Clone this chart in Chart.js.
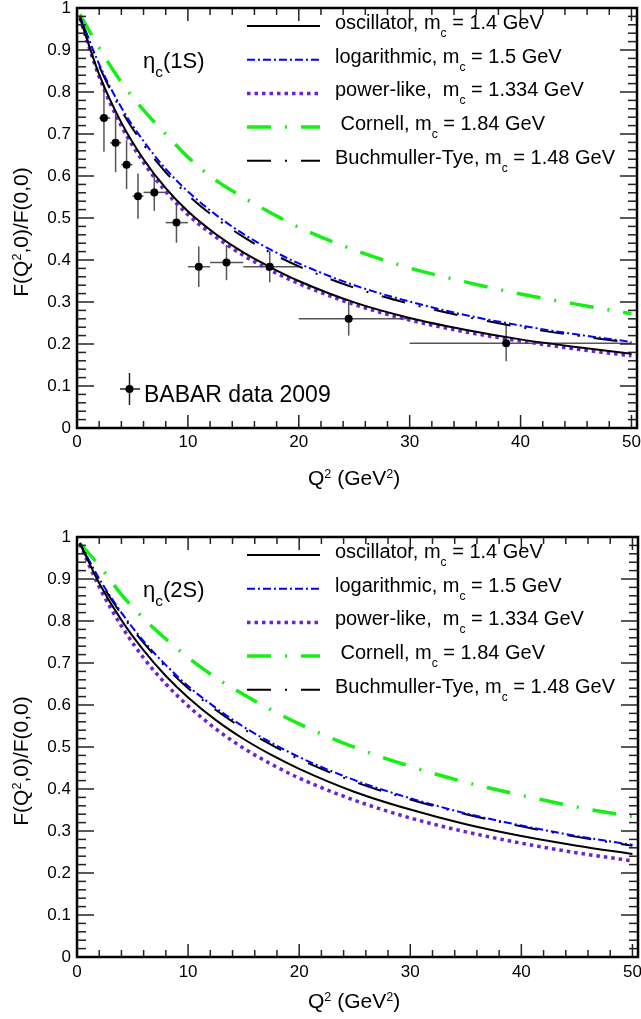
<!DOCTYPE html>
<html>
<head>
<meta charset="utf-8">
<script src="https://cdn.jsdelivr.net/npm/chart.js@4.4.1/dist/chart.umd.min.js"></script>
<style>
  body { margin: 0; background: #fff; }
  canvas { display: block; }
</style>
</head>
<body>
<canvas id="top" width="641" height="509"></canvas>
<canvas id="bottom" width="641" height="510"></canvas>
<script>
// ---------- values ----------
const q2 = [0.25, 2, 4, 6, 8, 10, 12.5, 15, 17.5, 20, 25, 30, 35, 40, 45, 50];

// eta_c(1S)
const osc1S   = [0.977, 0.842, 0.727, 0.640, 0.571, 0.516, 0.462, 0.418, 0.382, 0.350, 0.299, 0.262, 0.234, 0.211, 0.193, 0.177];
const log1S   = [0.981, 0.866, 0.763, 0.683, 0.617, 0.563, 0.508, 0.462, 0.424, 0.392, 0.340, 0.301, 0.269, 0.244, 0.223, 0.205];
const pow1S   = [0.976, 0.836, 0.719, 0.632, 0.563, 0.508, 0.455, 0.411, 0.375, 0.344, 0.294, 0.257, 0.229, 0.207, 0.188, 0.172];
const corn1S  = [0.985, 0.905, 0.823, 0.757, 0.700, 0.645, 0.590, 0.549, 0.512, 0.478, 0.424, 0.381, 0.348, 0.319, 0.295, 0.272];
const bt1S    = [0.981, 0.862, 0.756, 0.675, 0.609, 0.555, 0.500, 0.455, 0.417, 0.385, 0.334, 0.296, 0.265, 0.240, 0.220, 0.203];

// eta_c(2S)
const osc2S   = [0.985, 0.890, 0.802, 0.730, 0.669, 0.618, 0.564, 0.519, 0.481, 0.448, 0.393, 0.351, 0.316, 0.288, 0.265, 0.245];
const log2S   = [0.986, 0.901, 0.820, 0.752, 0.695, 0.645, 0.593, 0.548, 0.510, 0.476, 0.421, 0.378, 0.342, 0.313, 0.288, 0.267];
const pow2S   = [0.983, 0.881, 0.788, 0.712, 0.650, 0.598, 0.543, 0.497, 0.459, 0.426, 0.373, 0.331, 0.298, 0.271, 0.248, 0.229];
const corn2S  = [0.985, 0.932, 0.863, 0.806, 0.757, 0.713, 0.665, 0.625, 0.588, 0.555, 0.499, 0.454, 0.416, 0.385, 0.357, 0.334];
const bt2S    = [0.985, 0.898, 0.816, 0.748, 0.690, 0.640, 0.588, 0.543, 0.505, 0.471, 0.417, 0.375, 0.340, 0.311, 0.286, 0.265];

// BABAR data 2009
const babarQ2  = [2.43, 3.48, 4.47, 5.5, 6.97, 8.97, 10.98, 13.48, 17.38, 24.5, 38.7];
const babarF   = [0.738, 0.679, 0.627, 0.552, 0.561, 0.489, 0.384, 0.394, 0.384, 0.26, 0.202];
const babarErr = [0.08, 0.07, 0.058, 0.054, 0.044, 0.048, 0.048, 0.042, 0.037, 0.04, 0.043];
const babarLo  = [2, 3, 4, 5, 6, 8, 10, 12, 15, 20, 30];
const babarHi  = [3, 4, 5, 6, 8, 10, 12, 15, 20, 30, 50];

const xTicks = [0, 10, 20, 30, 40, 50];
const xTickLabels = ['0', '10', '20', '30', '40', '50'];
const yTicks = [0, 0.1, 0.2, 0.3, 0.4, 0.5, 0.6, 0.7, 0.8, 0.9, 1];
const yTickLabels = ['0', '0.1', '0.2', '0.3', '0.4', '0.5', '0.6', '0.7', '0.8', '0.9', '1'];

const modelNames = [
  'oscillator, m_c = 1.4 GeV',
  'logarithmic, m_c = 1.5 GeV',
  'power-like,  m_c = 1.334 GeV',
  ' Cornell, m_c = 1.84 GeV',
  'Buchmuller-Tye, m_c = 1.48 GeV'
];

// ---------- styles ----------
const FONT = '"Liberation Sans", Arial, Helvetica, sans-serif';
const styles = [
  { color: '#000000', width: 2,   dash: [] },
  { color: '#0000ff', width: 2,   dash: [8, 3, 2, 3] },
  { color: '#6a22d4', width: 3.5, dash: [3.5, 4] },
  { color: '#14f014', width: 3.5, dash: [24, 14, 2, 14] },
  { color: '#000000', width: 2,   dash: [24, 14, 2, 14] }
];

// text with _x subscripts and ^x superscripts
function richParts(str, size, subScale) {
  const out = [];
  let buf = '';
  for (let i = 0; i < str.length; i++) {
    const ch = str[i];
    if (ch === '_' || ch === '^') {
      if (buf) out.push({ t: buf, s: size, dy: 0 });
      buf = '';
      const s = size * (ch === '_' ? subScale : 0.6);
      out.push({ t: str[i + 1], s: s, dy: ch === '_' ? size * 0.4 : -size * 0.35 });
      i++;
    } else buf += ch;
  }
  if (buf) out.push({ t: buf, s: size, dy: 0 });
  return out;
}
function drawRich(ctx, str, x, y, size, center, subScale) {
  const ps = richParts(str, size, subScale || 0.6);
  let w = 0;
  ps.forEach(p => { ctx.font = p.s + 'px ' + FONT; p.w = ctx.measureText(p.t).width; w += p.w; });
  let cx = center ? x - w / 2 : x;
  ctx.textAlign = 'left';
  ctx.textBaseline = 'alphabetic';
  ps.forEach(p => { ctx.font = p.s + 'px ' + FONT; ctx.fillText(p.t, cx, y + p.dy); cx += p.w; });
}
function line(ctx, x1, y1, x2, y2) {
  ctx.beginPath(); ctx.moveTo(x1, y1); ctx.lineTo(x2, y2); ctx.stroke();
}

const decor = {
  id: 'decor',
  beforeDatasetsDraw(chart, args, o) {
    if (!o.babar) return;
    const ctx = chart.ctx, xs = chart.scales.x, ys = chart.scales.y;
    ctx.save();
    ctx.beginPath();
    ctx.rect(chart.chartArea.left, chart.chartArea.top, chart.chartArea.width, chart.chartArea.height);
    ctx.clip();
    ctx.strokeStyle = '#555';
    ctx.lineWidth = 1.5;
    babarQ2.forEach((q, i) => {
      const px = xs.getPixelForValue(q), py = ys.getPixelForValue(babarF[i]);
      line(ctx, xs.getPixelForValue(babarLo[i]), py, xs.getPixelForValue(babarHi[i]), py);
      line(ctx, px, ys.getPixelForValue(babarF[i] - babarErr[i]), px, ys.getPixelForValue(babarF[i] + babarErr[i]));
    });
    ctx.restore();
  },
  afterDraw(chart, args, o) {
    const ctx = chart.ctx, xs = chart.scales.x, ys = chart.scales.y;
    const { left, right, top, bottom } = chart.chartArea;
    ctx.save();
    ctx.fillStyle = '#000';

    // inward ticks on all four sides
    ctx.strokeStyle = '#222';
    ctx.lineWidth = 1.5;
    for (let k = 0; k <= 25; k++) {
      const px = xs.getPixelForValue(k * 2);
      const len = k % 5 === 0 ? 13 : 7;
      line(ctx, px, bottom, px, bottom - len);
      line(ctx, px, top, px, top + len);
    }
    for (let k = 0; k <= 50; k++) {
      const py = ys.getPixelForValue(k * 0.02);
      const len = k % 5 === 0 ? 17 : 9;
      line(ctx, left, py, left + len, py);
      line(ctx, right, py, right - len, py);
    }
    ctx.strokeStyle = '#000';
    ctx.lineWidth = 2.5;
    ctx.strokeRect(left, top, right - left, bottom - top);

    // axis titles
    drawRich(ctx, 'Q^2 (GeV^2)', 308, o.xTitleY, 21, false);
    ctx.save();
    ctx.translate(28, o.yTitleY);
    ctx.rotate(-Math.PI / 2);
    drawRich(ctx, 'F(Q^2,0)/F(0,0)', 0, 0, 21, true);
    ctx.restore();

    // legend of the models
    modelNames.forEach((name, i) => {
      const st = styles[i];
      const ly = top + 18 + 33.7 * i;
      ctx.save();
      ctx.strokeStyle = st.color;
      ctx.lineWidth = st.width;
      ctx.setLineDash(st.dash);
      line(ctx, 247, ly, 320, ly);
      ctx.restore();
      drawRich(ctx, name, 335, ly + 3, 20, false);
    });

    // state label
    drawRich(ctx, o.label, 143, top + 60, 22, false, 0.7);

    // BABAR legend entry
    if (o.babar) {
      ctx.strokeStyle = '#222';
      ctx.lineWidth = 1.5;
      line(ctx, 120, 389, 140, 389);
      line(ctx, 129.5, 373, 129.5, 405);
      ctx.beginPath();
      ctx.arc(129.5, 389, 4, 0, Math.PI * 2);
      ctx.fill();
      drawRich(ctx, 'BABAR data 2009', 144, 402, 23, false);
    }
    ctx.restore();
  }
};

function makeChart(id, curves, opt) {
  const datasets = [];
  if (opt.babar) {
    datasets.push({
      label: 'BABAR data 2009',
      data: babarQ2.map((q, i) => ({ x: q, y: babarF[i] })),
      showLine: false,
      pointRadius: 4,
      pointBackgroundColor: '#000',
      pointBorderColor: '#000',
      pointBorderWidth: 0
    });
  }
  curves.forEach((vals, i) => {
    datasets.push({
      label: modelNames[i],
      data: q2.map((q, j) => ({ x: q, y: vals[j] })),
      showLine: true,
      borderColor: styles[i].color,
      borderWidth: styles[i].width,
      borderDash: styles[i].dash,
      pointRadius: 0,
      cubicInterpolationMode: 'monotone',
      fill: false
    });
  });

  return new Chart(document.getElementById(id), {
    type: 'scatter',
    data: { datasets: datasets },
    options: {
      responsive: false,
      animation: false,
      devicePixelRatio: 1,
      events: [],
      layout: { padding: { left: 0, right: 3, top: opt.top, bottom: 0 } },
      plugins: {
        legend: { display: false },
        tooltip: { enabled: false },
        decor: opt
      },
      scales: {
        x: {
          type: 'linear', min: 0, max: 50.5,
          grid: { display: false, drawTicks: false },
          border: { display: false },
          afterBuildTicks: s => { s.ticks = xTicks.map(v => ({ value: v })); },
          ticks: {
            font: { family: FONT, size: 17 }, color: '#000',
            padding: opt.xPad, maxRotation: 0, autoSkip: false,
            callback: (v, i) => xTickLabels[i]
          },
          afterFit: s => { s.height = opt.xHeight; s.paddingLeft = 0; s.paddingRight = 0; }
        },
        y: {
          type: 'linear', min: 0, max: 1,
          grid: { display: false, drawTicks: false },
          border: { display: false },
          afterBuildTicks: s => { s.ticks = yTicks.map(v => ({ value: v })); },
          ticks: {
            font: { family: FONT, size: 17 }, color: '#000',
            padding: 6, autoSkip: false,
            callback: (v, i) => yTickLabels[i]
          },
          afterFit: s => { s.width = 77; s.paddingTop = 0; s.paddingBottom = 0; }
        }
      }
    },
    plugins: [decor]
  });
}

makeChart('top', [osc1S, log1S, pow1S, corn1S, bt1S], {
  babar: true, label: 'η_c(1S)', top: 8, xHeight: 81, xPad: 4, xTitleY: 485, yTitleY: 232
});
makeChart('bottom', [osc2S, log2S, pow2S, corn2S, bt2S], {
  babar: false, label: 'η_c(2S)', top: 28, xHeight: 62, xPad: 5, xTitleY: 499, yTitleY: 252
});
</script>
</body>
</html>
